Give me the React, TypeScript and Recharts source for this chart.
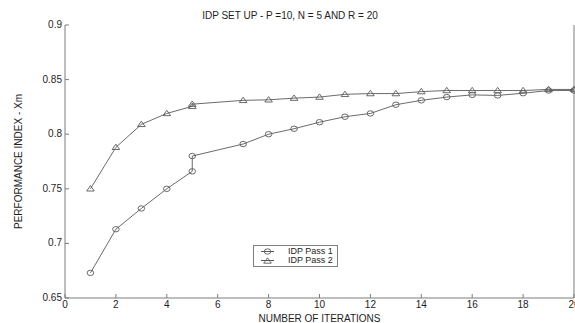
import { Label, Legend, Line, LineChart, XAxis, YAxis } from "recharts";

// iterations; both runs have two points at iteration 5
const pass1Iterations = [1, 2, 3, 4, 5, 5, 7, 8, 9, 10, 11, 12, 13, 14, 15, 16, 17, 18, 19, 20];
const pass1Values = [
  0.673, 0.713, 0.732, 0.75, 0.766, 0.78, 0.791, 0.8, 0.805, 0.811, 0.816, 0.819, 0.827, 0.831,
  0.834, 0.836, 0.8355, 0.8375, 0.84, 0.84,
];
const pass2Iterations = [1, 2, 3, 4, 5, 5, 7, 8, 9, 10, 11, 12, 13, 14, 15, 16, 17, 18, 19, 20];
const pass2Values = [
  0.75, 0.788, 0.809, 0.819, 0.8255, 0.8275, 0.831, 0.8315, 0.833, 0.834, 0.8365, 0.8372, 0.8372,
  0.839, 0.84, 0.84, 0.84, 0.84, 0.841, 0.841,
];

const xTicks = [0, 2, 4, 6, 8, 10, 12, 14, 16, 18, 20];
const yTicks = [0.65, 0.7, 0.75, 0.8, 0.85, 0.9];

const pass1Data = pass1Iterations.map((it, i) => ({ iteration: it, value: pass1Values[i] }));
const pass2Data = pass2Iterations.map((it, i) => ({ iteration: it, value: pass2Values[i] }));

const AXIS = "#7d7d7d";
const LINE = "#5a5a5a";
const TEXT = "#1e1e1e";
const FONT = "'Liberation Sans', Arial, sans-serif";

const markerFor: Record<string, string> = {
  "IDP Pass 1": "circle",
  "IDP Pass 2": "triangle",
};

function CircleDot({ cx, cy }: any) {
  if (cx == null || cy == null) return null;
  return <ellipse cx={cx} cy={cy} rx={3.3} ry={2.7} fill="none" stroke={LINE} strokeWidth={0.9} />;
}

function TriangleDot({ cx, cy }: any) {
  if (cx == null || cy == null) return null;
  return (
    <path
      d={`M${cx},${cy - 3.2} L${cx + 3.8},${cy + 2.2} L${cx - 3.8},${cy + 2.2} Z`}
      fill="none"
      stroke={LINE}
      strokeWidth={0.9}
    />
  );
}

function BottomTick({ x, y, payload }: any) {
  return (
    <g>
      <line x1={x} x2={x} y1={y - 2} y2={y - 6} stroke={AXIS} />
      <text x={x} y={y} dy="0.8em" textAnchor="middle" fontSize={10} fill={TEXT} fontFamily={FONT}>
        {payload.value}
      </text>
    </g>
  );
}

function TopTick({ x, y }: any) {
  return <line x1={x} x2={x} y1={y} y2={y + 4} stroke={AXIS} />;
}

function LeftTick({ x, y, payload }: any) {
  return (
    <g>
      <line x1={x + 3} x2={x + 7} y1={y} y2={y} stroke={AXIS} />
      <text x={x} y={y} dy="0.3em" textAnchor="end" fontSize={10} fill={TEXT} fontFamily={FONT}>
        {payload.value}
      </text>
    </g>
  );
}

function RightTick({ x, y }: any) {
  return <line x1={x} x2={x - 4} y1={y} y2={y} stroke={AXIS} />;
}

function LegendBox({ payload }: any) {
  return (
    <div
      style={{
        border: `1px solid ${AXIS}`,
        background: "#fff",
        padding: "1px 4px 1px 6px",
        fontFamily: FONT,
        fontSize: 9,
        lineHeight: "9px",
        color: TEXT,
        whiteSpace: "nowrap",
        display: "inline-block",
      }}
    >
      {(payload || []).map((entry: any) => (
        <div key={entry.value} style={{ display: "flex", alignItems: "center", height: 9 }}>
          <svg width={20} height={9} style={{ marginRight: 8, flexShrink: 0 }}>
            <line x1={1} x2={14} y1={4.5} y2={4.5} stroke={LINE} />
            {markerFor[entry.value] === "circle" ? (
              <CircleDot cx={7.5} cy={4.5} />
            ) : (
              <TriangleDot cx={7.5} cy={5} />
            )}
          </svg>
          <span>{entry.value}</span>
        </div>
      ))}
    </div>
  );
}

export default function App() {
  return (
    <div
      style={{
        position: "absolute",
        left: 0,
        top: 0,
        width: 575,
        height: 323,
        background: "#fff",
        overflow: "hidden",
        fontFamily: FONT,
      }}
    >
      <div
        style={{
          position: "absolute",
          left: 0,
          top: 10,
          width: 580,
          textAlign: "center",
          fontSize: 10,
          lineHeight: "12px",
          color: TEXT,
        }}
      >
        IDP SET UP - P =10, N = 5 AND R = 20
      </div>
      <LineChart width={575} height={323} margin={{ top: 25, right: 0, bottom: 0, left: 0 }}>
        <XAxis
          dataKey="iteration"
          type="number"
          domain={[0, 20]}
          ticks={xTicks}
          interval={0}
          height={25}
          tickSize={0}
          tickMargin={2}
          tick={<BottomTick />}
          axisLine={{ stroke: AXIS }}
          allowDuplicatedCategory
        >
          <Label
            value="NUMBER OF ITERATIONS"
            position="insideBottom"
            offset={1}
            fontSize={10}
            fill={TEXT}
            fontFamily={FONT}
          />
        </XAxis>
        <XAxis
          xAxisId="top"
          orientation="top"
          dataKey="iteration"
          type="number"
          domain={[0, 20]}
          ticks={xTicks}
          interval={0}
          height={0}
          tickSize={0}
          tickMargin={0}
          tick={<TopTick />}
          axisLine={{ stroke: AXIS }}
        />
        <YAxis
          type="number"
          domain={[0.65, 0.9]}
          ticks={yTicks}
          interval={0}
          width={65}
          tickSize={0}
          tickMargin={3}
          tick={<LeftTick />}
          axisLine={{ stroke: AXIS }}
        >
          <Label
            value="PERFORMANCE INDEX - Xm"
            angle={-90}
            position="insideLeft"
            offset={18}
            fontSize={10}
            fill={TEXT}
            fontFamily={FONT}
            style={{ textAnchor: "middle" }}
          />
        </YAxis>
        <YAxis
          yAxisId="right"
          orientation="right"
          type="number"
          domain={[0.65, 0.9]}
          ticks={yTicks}
          interval={0}
          width={1}
          tickSize={0}
          tickMargin={0}
          tick={<RightTick />}
          axisLine={{ stroke: AXIS }}
        />
        <Legend
          layout="vertical"
          align="center"
          verticalAlign="middle"
          content={<LegendBox />}
          wrapperStyle={{ left: 253, top: 245, width: "auto" }}
        />
        <Line
          name="IDP Pass 1"
          data={pass1Data}
          dataKey="value"
          type="linear"
          stroke={LINE}
          strokeWidth={0.9}
          dot={<CircleDot />}
          activeDot={false}
          isAnimationActive={false}
        />
        <Line
          name="IDP Pass 2"
          data={pass2Data}
          dataKey="value"
          type="linear"
          stroke={LINE}
          strokeWidth={0.9}
          dot={<TriangleDot />}
          activeDot={false}
          isAnimationActive={false}
        />
      </LineChart>
    </div>
  );
}
